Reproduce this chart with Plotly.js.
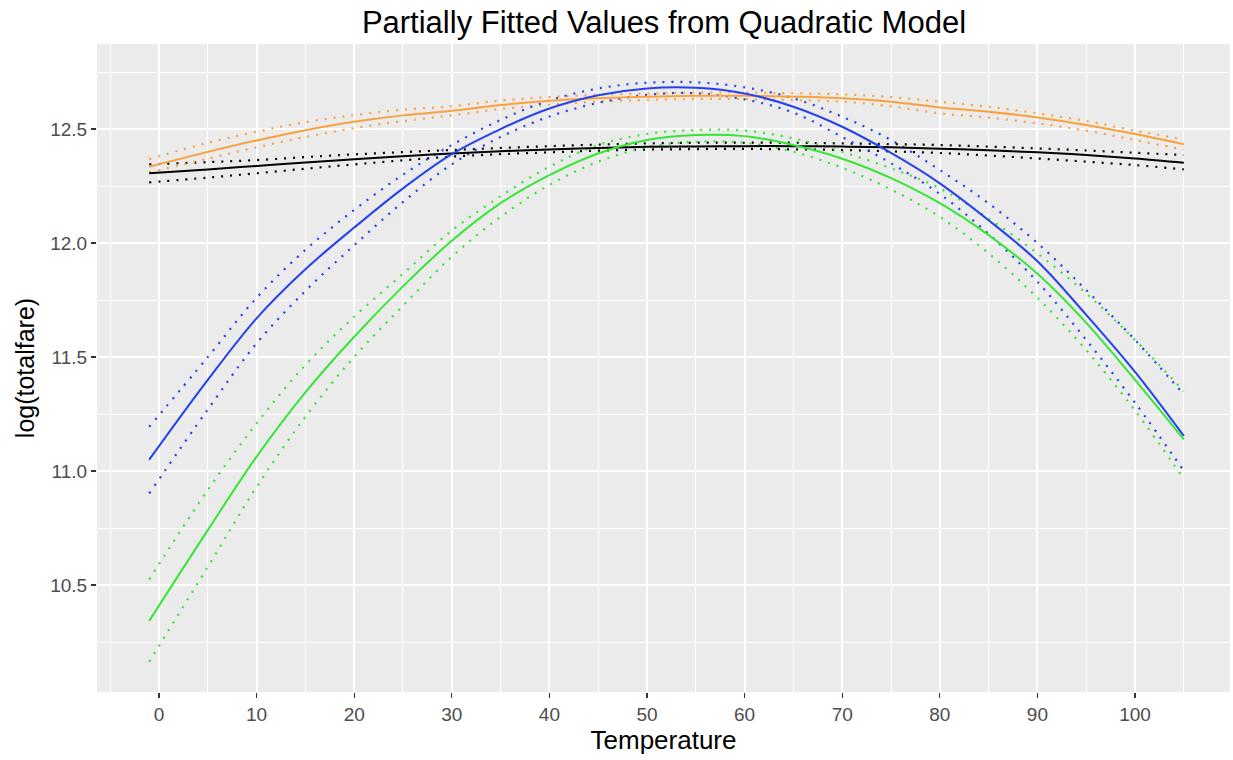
<!DOCTYPE html>
<html>
<head>
<meta charset="utf-8">
<script src="https://cdn.plot.ly/plotly-3.0.1.min.js"></script>
<style>html,body{margin:0;padding:0;background:#fff;}#chart{width:1233px;height:760px;}</style>
</head>
<body>
<div id="chart"></div>
<script>
var temperature = [-1, 5, 10, 15, 20, 25, 30, 35, 40, 45, 50, 55, 60, 65, 70, 75, 80, 85, 90, 95, 100, 105];

var blueFit = [11.05, 11.40, 11.67, 11.885, 12.068, 12.24, 12.39, 12.50, 12.59, 12.648, 12.678, 12.681, 12.656, 12.598, 12.51, 12.395, 12.262, 12.10, 11.92, 11.685, 11.435, 11.154];
var blueHi  = [11.194, 11.50, 11.76, 11.97, 12.145, 12.30, 12.43, 12.54, 12.625, 12.678, 12.703, 12.705, 12.683, 12.635, 12.554, 12.452, 12.32, 12.174, 12.0, 11.794, 11.575, 11.336];
var blueLo  = [10.902, 11.27, 11.56, 11.79, 11.99, 12.18, 12.345, 12.465, 12.555, 12.615, 12.65, 12.657, 12.63, 12.572, 12.465, 12.35, 12.215, 12.04, 11.83, 11.575, 11.30, 11.001];

var greenFit = [10.343, 10.741, 11.063, 11.345, 11.589, 11.81, 12.01, 12.175, 12.298, 12.393, 12.452, 12.474, 12.469, 12.43, 12.37, 12.285, 12.175, 12.035, 11.865, 11.65, 11.40, 11.139];
var greenHi  = [10.525, 10.917, 11.209, 11.465, 11.677, 11.865, 12.055, 12.205, 12.335, 12.43, 12.478, 12.496, 12.493, 12.459, 12.40, 12.328, 12.24, 12.108, 11.955, 11.779, 11.575, 11.35];
var greenLo  = [10.164, 10.58, 10.93, 11.238, 11.501, 11.725, 11.94, 12.115, 12.255, 12.357, 12.42, 12.444, 12.44, 12.40, 12.33, 12.235, 12.115, 11.955, 11.76, 11.53, 11.265, 10.965];

var orangeFit = [12.335, 12.40, 12.45, 12.495, 12.532, 12.56, 12.58, 12.605, 12.624, 12.635, 12.642, 12.646, 12.646, 12.642, 12.635, 12.62, 12.595, 12.576, 12.551, 12.518, 12.478, 12.433];
var orangeHi  = [12.368, 12.44, 12.488, 12.53, 12.561, 12.585, 12.60, 12.625, 12.64, 12.65, 12.655, 12.66, 12.66, 12.657, 12.652, 12.64, 12.62, 12.597, 12.569, 12.535, 12.493, 12.455];
var orangeLo  = [12.31, 12.37, 12.42, 12.465, 12.504, 12.535, 12.56, 12.588, 12.607, 12.62, 12.628, 12.632, 12.632, 12.627, 12.62, 12.60, 12.569, 12.55, 12.525, 12.493, 12.452, 12.41];

var blackFit = [12.306, 12.323, 12.338, 12.353, 12.367, 12.381, 12.393, 12.403, 12.41, 12.417, 12.422, 12.424, 12.425, 12.425, 12.423, 12.42, 12.414, 12.407, 12.398, 12.386, 12.371, 12.352];
var blackHi  = [12.345, 12.355, 12.364, 12.377, 12.389, 12.399, 12.408, 12.417, 12.425, 12.432, 12.437, 12.44, 12.44, 12.44, 12.437, 12.434, 12.43, 12.423, 12.415, 12.406, 12.396, 12.386];
var blackLo  = [12.266, 12.287, 12.306, 12.326, 12.345, 12.363, 12.379, 12.39, 12.398, 12.405, 12.41, 12.412, 12.413, 12.411, 12.408, 12.402, 12.395, 12.384, 12.371, 12.357, 12.342, 12.323];

var xTicks = [0, 10, 20, 30, 40, 50, 60, 70, 80, 90, 100];
var yTicks = [10.5, 11.0, 11.5, 12.0, 12.5];
var yTickText = ["10.5", "11.0", "11.5", "12.0", "12.5"];

var COL = {black: "#000000", orange: "#F9A23B", blue: "#2341EE", green: "#35E635"};

var groups = [
  {name: "black", fit: blackFit, hi: blackHi, lo: blackLo},
  {name: "orange", fit: orangeFit, hi: orangeHi, lo: orangeLo},
  {name: "blue", fit: blueFit, hi: blueHi, lo: blueLo},
  {name: "green", fit: greenFit, hi: greenHi, lo: greenLo}
];

var traces = [];
groups.forEach(function (g) {
  [g.hi, g.lo].forEach(function (arr) {
    traces.push({x: temperature, y: arr, type: "scatter", mode: "lines", hoverinfo: "skip",
      line: {color: COL[g.name], width: 2.2, dash: "2px,7px", shape: "spline", smoothing: 1}});
  });
});
groups.forEach(function (g) {
  traces.push({x: temperature, y: g.fit, type: "scatter", mode: "lines", hoverinfo: "skip",
    line: {color: COL[g.name], width: 2, shape: "spline", smoothing: 1}});
});

var font = "Liberation Sans, Arial, Helvetica, sans-serif";
var layout = {
  width: 1233, height: 760,
  margin: {l: 97, r: 3, t: 44, b: 68},
  paper_bgcolor: "#FFFFFF",
  plot_bgcolor: "#EBEBEB",
  showlegend: false,
  title: {text: "Partially Fitted Values from Quadratic Model", x: 0.5385, xanchor: "center", y: 0.971, yanchor: "middle",
          font: {family: font, size: 31, color: "#000000"}},
  xaxis: {
    range: [-6.35, 109.73], tickvals: xTicks, ticktext: xTicks.map(String),
    showgrid: true, gridcolor: "#FFFFFF", gridwidth: 2, zeroline: false, showline: false,
    ticks: "outside", ticklen: 5, tickwidth: 1.3, tickcolor: "#333333",
    tickfont: {family: font, size: 19, color: "#4D4D4D"},
    minor: {dtick: 5, tick0: 0, showgrid: true, gridcolor: "#FFFFFF", gridwidth: 1, ticks: ""},
    title: {text: "Temperature", font: {family: font, size: 26, color: "#000000"}, standoff: 6}
  },
  yaxis: {
    range: [10.031, 12.873], tickvals: yTicks, ticktext: yTickText,
    showgrid: true, gridcolor: "#FFFFFF", gridwidth: 2, zeroline: false, showline: false,
    ticks: "outside", ticklen: 5, tickwidth: 1.3, tickcolor: "#333333",
    tickfont: {family: font, size: 19, color: "#4D4D4D"},
    minor: {dtick: 0.25, tick0: 10.25, showgrid: true, gridcolor: "#FFFFFF", gridwidth: 1, ticks: ""},
    title: {text: "log(totalfare)", font: {family: font, size: 25, color: "#000000"}, standoff: 8}
  }
};

Plotly.newPlot("chart", traces, layout, {displayModeBar: false, staticPlot: true});
</script>
</body>
</html>
